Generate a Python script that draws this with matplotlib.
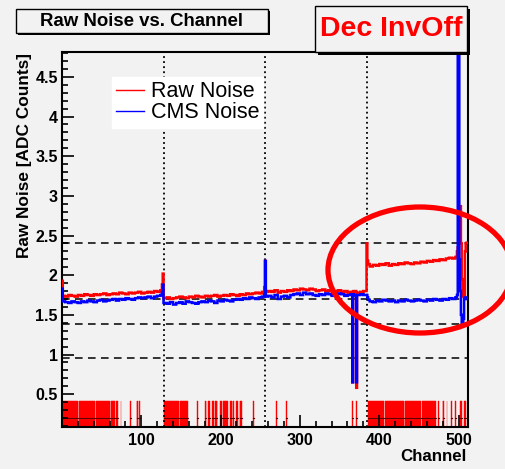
import numpy as np
import matplotlib.pyplot as plt
from matplotlib.patches import Rectangle, Ellipse

plt.rcParams['font.family'] = ['Liberation Sans', 'DejaVu Sans']

# noise per group of 4 channels (512 channels)
n_channels = 512
group = 4
raw_groups = [
    1.74, 1.73, 1.75, 1.74, 1.73, 1.75, 1.74, 1.76, 1.75, 1.74, 1.76, 1.75, 1.76, 1.77, 1.75, 1.76,
    1.77, 1.76, 1.78, 1.77, 1.76, 1.78, 1.77, 1.78, 1.79, 1.77, 1.78, 1.79, 1.78, 1.80, 1.79, 1.81,
    1.71, 1.72, 1.70, 1.71, 1.72, 1.73, 1.72, 1.71, 1.73, 1.72, 1.74, 1.73, 1.72, 1.74, 1.73, 1.74,
    1.75, 1.73, 1.74, 1.75, 1.74, 1.76, 1.75, 1.74, 1.76, 1.75, 1.77, 1.76, 1.77, 1.78, 1.77, 1.79,
    1.79, 1.80, 1.79, 1.81, 1.78, 1.80, 1.79, 1.81, 1.80, 1.82, 1.81, 1.83, 1.82, 1.81, 1.83, 1.82,
    1.80, 1.81, 1.82, 1.80, 1.81, 1.79, 1.80, 1.81, 1.79, 1.80, 1.78, 1.79, 1.80, 1.78, 1.79, 1.80,
    2.14, 2.11, 2.13, 2.12, 2.14, 2.13, 2.15, 2.12, 2.14, 2.13, 2.15, 2.14, 2.16, 2.15, 2.14, 2.16,
    2.15, 2.17, 2.16, 2.18, 2.17, 2.19, 2.18, 2.20, 2.19, 2.21, 2.22, 2.21, 2.23, 2.24, 2.22, 2.25,
]
cms_groups = [
    1.67, 1.66, 1.65, 1.67, 1.66, 1.65, 1.67, 1.66, 1.68, 1.67, 1.66, 1.68, 1.69, 1.67, 1.68, 1.69,
    1.70, 1.68, 1.70, 1.69, 1.71, 1.70, 1.69, 1.71, 1.72, 1.71, 1.72, 1.73, 1.71, 1.73, 1.74, 1.75,
    1.65, 1.64, 1.66, 1.63, 1.65, 1.66, 1.64, 1.67, 1.66, 1.65, 1.64, 1.66, 1.67, 1.66, 1.68, 1.67,
    1.65, 1.68, 1.67, 1.69, 1.68, 1.67, 1.69, 1.70, 1.69, 1.71, 1.70, 1.72, 1.71, 1.70, 1.72, 1.73,
    1.73, 1.74, 1.72, 1.75, 1.70, 1.73, 1.74, 1.72, 1.75, 1.76, 1.77, 1.75, 1.78, 1.76, 1.77, 1.75,
    1.74, 1.76, 1.75, 1.77, 1.76, 1.74, 1.75, 1.77, 1.76, 1.74, 1.75, 1.76, 1.74, 1.75, 1.76, 1.75,
    1.69, 1.67, 1.66, 1.68, 1.67, 1.69, 1.68, 1.67, 1.68, 1.66, 1.68, 1.67, 1.69, 1.68, 1.67, 1.68,
    1.69, 1.68, 1.67, 1.69, 1.68, 1.70, 1.69, 1.68, 1.70, 1.69, 1.71, 1.70, 1.72, 1.71, 1.73, 1.72,
]

# single channels that stick out
spike_channels = [0, 126, 127, 255, 256, 366, 371, 384, 385, 498, 499, 500, 501, 502, 503,
                  504, 505, 506, 507, 508, 509, 510, 511]
raw_spikes = [1.93, 1.88, 2.02, 1.85, 2.18, 0.65, 0.58, 2.40, 2.18, 2.30, 2.35, 2.60, 2.87, 2.87,
              2.40, 1.95, 1.73, 1.75, 1.74, 2.30, 2.40, 2.41, 2.41]
cms_spikes = [1.83, 1.78, 1.88, 1.76, 2.18, 0.65, 0.65, 1.75, 1.72, 1.75, 5.50, 5.50, 2.20, 1.80,
              1.50, 1.38, 1.38, 1.45, 1.70, 1.72, 1.72, 1.72, 1.70]

# flagged (bad) channels, inclusive ranges
flag_ranges = [
    (1, 19), (21, 41), (43, 60), (62, 66), (68, 69), (74, 74),
    (86, 86), (94, 95), (97, 97),
    (128, 147), (149, 158), (170, 170), (180, 181), (184, 185), (189, 191),
    (193, 195), (199, 201), (203, 208), (212, 213), (215, 216), (220, 221), (224, 226),
    (241, 241), (270, 270), (283, 283), (366, 366), (371, 371),
    (386, 405), (407, 430), (432, 452), (454, 470), (474, 474), (480, 481), (485, 485),
    (491, 491), (496, 496), (502, 503), (507, 508),
]
flag_height = 0.41
flag_line = 0.2

apv_edges = [128, 256, 384]
limit_levels = [2.4, 1.7, 1.39, 0.95]

bg = '#f2f2f2'
W, H = 506, 469
fig = plt.figure(figsize=(5.06, 4.69), dpi=100, facecolor=bg)
ax = fig.add_axes([0.1225, 0.0885, 0.8025, 0.8], facecolor=bg)

raw = np.repeat(raw_groups, group)
cms = np.repeat(cms_groups, group)
raw[spike_channels] = raw_spikes
cms[spike_channels] = cms_spikes
edges = np.arange(n_channels + 1)

flags = np.zeros(n_channels, dtype=bool)
for a, b in flag_ranges:
    flags[a:b + 1] = True
fc = np.where(flags)[0]
ax.bar(fc + 0.5, flag_height, width=1.0, color='#ff0000', edgecolor='#ff0000',
       linewidth=0.3, zorder=1)
ax.plot(edges[:-1], np.where(flags, flag_line, np.nan), drawstyle='steps-post',
        color='#600000', lw=0.8, zorder=1.5)

for c in apv_edges:
    ax.axvline(c, color='black', lw=1.3, ls=(0, (1, 1.8)), zorder=2)
for v in limit_levels:
    ax.axhline(v, color='black', lw=1.1, ls=(0, (5, 3.5)), zorder=2)

ax.stairs(raw, edges, baseline=None, color='#ff0000', lw=1.8, zorder=3, label='Raw Noise')
ax.stairs(cms, edges, baseline=None, color='#0000ff', lw=1.8, zorder=4, label='CMS Noise')

ax.set_xlim(0, 512)
ax.set_ylim(0.08, 4.81)
ax.set_xticks([100, 200, 300, 400, 500])
ax.set_xticks(np.arange(20, 512, 20), minor=True)
ax.set_yticks([0.5, 1, 1.5, 2, 2.5, 3, 3.5, 4, 4.5])
ax.set_yticklabels(['0.5', '1', '1.5', '2', '2.5', '3', '3.5', '4', '4.5'])
ax.set_yticks(np.arange(0.1, 4.81, 0.1), minor=True)
ax.tick_params(which='both', direction='in', top=False, right=False, width=1.2)
ax.tick_params(which='major', length=8.6, labelsize=11.5, pad=4)
ax.tick_params(which='minor', length=4.3)
ax.tick_params(axis='y', pad=3)
for lab in ax.get_xticklabels() + ax.get_yticklabels():
    lab.set_fontweight('bold')
for s in ax.spines.values():
    s.set_linewidth(1.5)

leg = ax.legend(loc='upper left', bbox_to_anchor=(0.123, 0.934), borderaxespad=0,
                fontsize=15.5, handlelength=1.3, handletextpad=0.3, labelspacing=0.0,
                borderpad=0.2, fancybox=False, framealpha=1)
leg.get_frame().set_facecolor('white')
leg.get_frame().set_edgecolor('white')
for h in leg.get_lines():
    h.set_linewidth(1.0)

fig.text(25 / W, 1 - 155 / H, 'Raw Noise [ADC Counts]', rotation=90, ha='center',
         va='center', fontsize=12.4, fontweight='bold')
fig.text(467 / W, 1 - 456 / H, 'Channel', ha='right', va='center', fontsize=12.2,
         fontweight='bold')

# title box with shadow
def box(x0, y0, x1, y1, shadow):
    fig.patches.append(Rectangle((x0 / W + shadow / W, 1 - y1 / H - shadow / H),
                                 (x1 - x0) / W, (y1 - y0) / H, transform=fig.transFigure,
                                 facecolor='black', edgecolor='none', zorder=5))
    fig.patches.append(Rectangle((x0 / W, 1 - y1 / H), (x1 - x0) / W, (y1 - y0) / H,
                                 transform=fig.transFigure, facecolor=bg,
                                 edgecolor='black', lw=1.0, zorder=6))

box(16, 9, 268, 33, 2)
fig.text(142 / W, 1 - 21.5 / H, 'Raw Noise vs. Channel', ha='center', va='center',
         fontsize=13.4, fontweight='bold', zorder=7)
box(315, 6, 467, 52, 3)
fig.text(391 / W, 1 - 29 / H, 'Dec InvOff', ha='center', va='center', fontsize=20.5,
         fontweight='bold', color='#ff0000', zorder=7)

fig.patches.append(Ellipse((420 / W, 1 - 270 / H), 184 / W, 126 / H, transform=fig.transFigure,
                           facecolor='none', edgecolor='#ff0000', lw=3.8, zorder=8))

fig.savefig('out.png', dpi=100, facecolor=bg)
